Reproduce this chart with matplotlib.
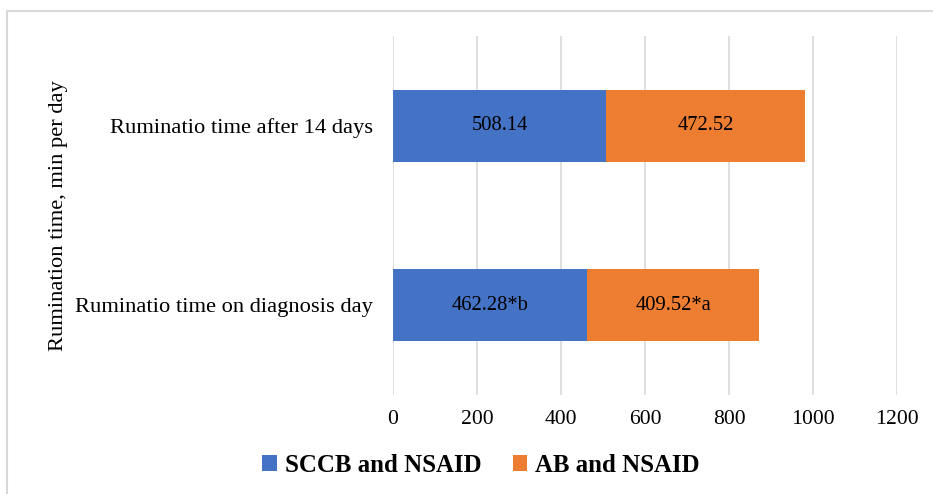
import matplotlib.pyplot as plt
from matplotlib.lines import Line2D
from matplotlib.patches import Patch

# Data
categories = ["Ruminatio time on diagnosis day", "Ruminatio time after 14 days"]
sccb_values = [462.28, 508.14]
ab_values = [409.52, 472.52]
sccb_labels = ["462.28*b", "508.14"]
ab_labels = ["409.52*a", "472.52"]
series_names = ["SCCB and NSAID", "AB and NSAID"]
x_ticks = [0, 200, 400, 600, 800, 1000, 1200]

blue = "#4472C4"
orange = "#ED7D31"
grid_color = "#d9d9d9"

plt.rcParams["font.family"] = ["Liberation Serif", "DejaVu Serif"]

fig = plt.figure(figsize=(9.33, 4.94), dpi=100)
ax = fig.add_axes([393 / 933, 1 - 395 / 494, (897 - 393) / 933, (395 - 36) / 494])

ypos = list(range(len(categories)))
ax.barh(ypos, sccb_values, height=0.4, color=blue, zorder=3)
ax.barh(ypos, ab_values, left=sccb_values, height=0.4, color=orange, zorder=3)

# value labels centered in each segment
for y, v1, v2, l1, l2 in zip(ypos, sccb_values, ab_values, sccb_labels, ab_labels):
    ax.text(v1 / 2, y, l1, ha="center", va="center", fontsize=14.8, color="black", zorder=4)
    ax.text(v1 + v2 / 2, y, l2, ha="center", va="center", fontsize=14.8, color="black", zorder=4)

ax.set_xlim(0, 1200)
ax.set_ylim(-0.5, 1.5)
ax.set_xticks(x_ticks)
ax.set_xticklabels([str(t) for t in x_ticks], fontsize=15.6)
ax.set_yticks(ypos)
ax.set_yticklabels(categories, fontsize=16.2)
ax.tick_params(axis="both", length=0)
ax.tick_params(axis="x", pad=11)
ax.tick_params(axis="y", pad=14.5)
ax.grid(axis="x", color=grid_color, linewidth=1.2, zorder=0)
for s in ax.spines.values():
    s.set_visible(False)
ax.set_ylabel("Rumination time, min per day", fontsize=16.2, labelpad=5)

handles = [Patch(facecolor=blue), Patch(facecolor=orange)]
fig.legend(handles, series_names, loc="center", bbox_to_anchor=(481 / 933, 1 - 465 / 494),
           ncol=2, frameon=False, prop={"weight": "bold", "size": 17.9},
           handlelength=0.6, handleheight=0.6, handletextpad=0.3, columnspacing=1.25,
           borderpad=0)

# light border around the chart area (cut off at right/bottom as in the reference)
fig.add_artist(Line2D([7 / 933, 7 / 933], [1 - 11 / 494, 0], color=grid_color, linewidth=1.5,
                      transform=fig.transFigure))
fig.add_artist(Line2D([7 / 933, 1], [1 - 11 / 494, 1 - 11 / 494], color=grid_color, linewidth=1.5,
                      transform=fig.transFigure))

fig.savefig("out.png", dpi=100)
